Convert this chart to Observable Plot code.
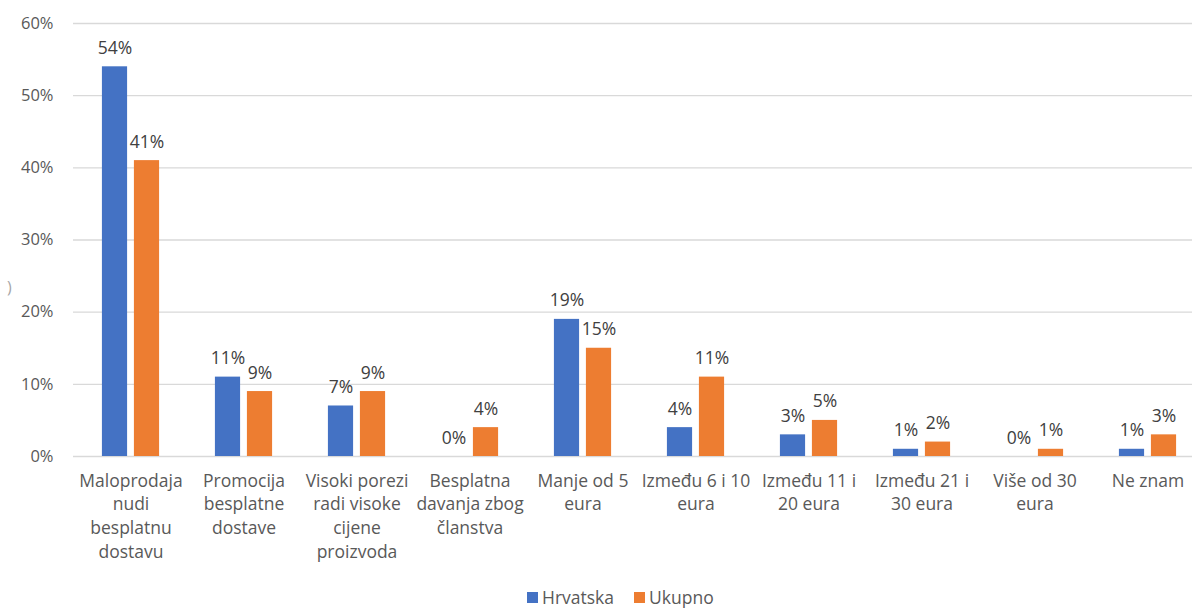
<!DOCTYPE html>
<html>
<head>
<meta charset="utf-8">
<script src="https://cdn.jsdelivr.net/npm/d3@7"></script>
<script src="https://cdn.jsdelivr.net/npm/@observablehq/plot@0.6"></script>
<style>
  html, body { margin: 0; padding: 0; background: #fff; }
  #wrap { position: relative; width: 1192px; height: 610px; overflow: hidden; font-family: "Open Sans", "Noto Sans", sans-serif; }
  #legend { position: absolute; top: 586px; left: 527px; display: flex; align-items: center; font-size: 17.5px; line-height: 22px; color: #595959; white-space: nowrap; }
  .sw { display: inline-block; width: 11px; height: 11px; margin-right: 4px; }
  .item { display: flex; align-items: center; margin-right: 20px; }
  #axisglyph { position: absolute; left: 7px; top: 276px; font-size: 16px; color: #a6a6a6; }
</style>
</head>
<body>
<div id="wrap">
  <div id="chart"></div>
  <div id="axisglyph">)</div>
  <div id="legend"></div>
</div>
<script>
const categories = [
  "Maloprodaja\nnudi\nbesplatnu\ndostavu",
  "Promocija\nbesplatne\ndostave",
  "Visoki porezi\nradi visoke\ncijene\nproizvoda",
  "Besplatna\ndavanja zbog\nčlanstva",
  "Manje od 5\neura",
  "Između 6 i 10\neura",
  "Između 11 i\n20 eura",
  "Između 21 i\n30 eura",
  "Više od 30\neura",
  "Ne znam"
];
const series = ["Hrvatska", "Ukupno"];
const hrvatska = [54, 11, 7, 0, 19, 4, 3, 1, 0, 1];
const ukupno = [41, 9, 9, 4, 15, 11, 5, 2, 1, 3];
const yTicks = [0, 10, 20, 30, 40, 50, 60];
const colors = ["#4472C4", "#ED7D31"];

const hData = categories.map((c, i) => ({category: c, series: "Hrvatska", value: hrvatska[i]}));
const uData = categories.map((c, i) => ({category: c, series: "Ukupno", value: ukupno[i]}));

const chart = Plot.plot({
  width: 1192,
  height: 575,
  marginLeft: 73,
  marginRight: 0,
  marginTop: 23,
  marginBottom: 119,
  style: {fontFamily: "'Open Sans', 'Noto Sans', sans-serif", fontSize: "16px", background: "#fff", overflow: "visible"},
  x: {domain: categories, range: [74, 1204], round: false, paddingInner: 0.494, paddingOuter: 0.247, axis: null, label: null},
  y: {domain: [0, 60], axis: null, label: null},
  marks: [
    Plot.ruleY(yTicks, {stroke: "#d9d9d9", strokeWidth: 1.3}),
    Plot.axisY({ticks: yTicks, tickSize: 0, tickPadding: 20, tickFormat: d => d + "%", fill: "#595959", fontSize: 16.5, label: null}),
    Plot.axisX({tickSize: 0, tickPadding: 13, fill: "#595959", fontSize: 17.5, lineHeight: 1.37, lineAnchor: "top", label: null}),
    Plot.barY(hData, {x: "category", y: "value", fill: colors[0], insetRight: 32}),
    Plot.barY(uData, {x: "category", y: "value", fill: colors[1], insetLeft: 32}),
    Plot.text(hData, {x: "category", y: "value", text: d => d.value + "%", dx: -16, dy: -13, lineAnchor: "bottom", fill: "#404040", fontSize: 17.5}),
    Plot.text(uData, {x: "category", y: "value", text: d => d.value + "%", dx: 16, dy: -13, lineAnchor: "bottom", fill: "#404040", fontSize: 17.5})
  ]
});
document.getElementById("chart").appendChild(chart);

const legend = document.getElementById("legend");
series.forEach((s, i) => {
  const item = document.createElement("div");
  item.className = "item";
  const sw = document.createElement("span");
  sw.className = "sw";
  sw.style.background = colors[i];
  item.appendChild(sw);
  item.appendChild(document.createTextNode(s));
  legend.appendChild(item);
});
</script>
</body>
</html>
